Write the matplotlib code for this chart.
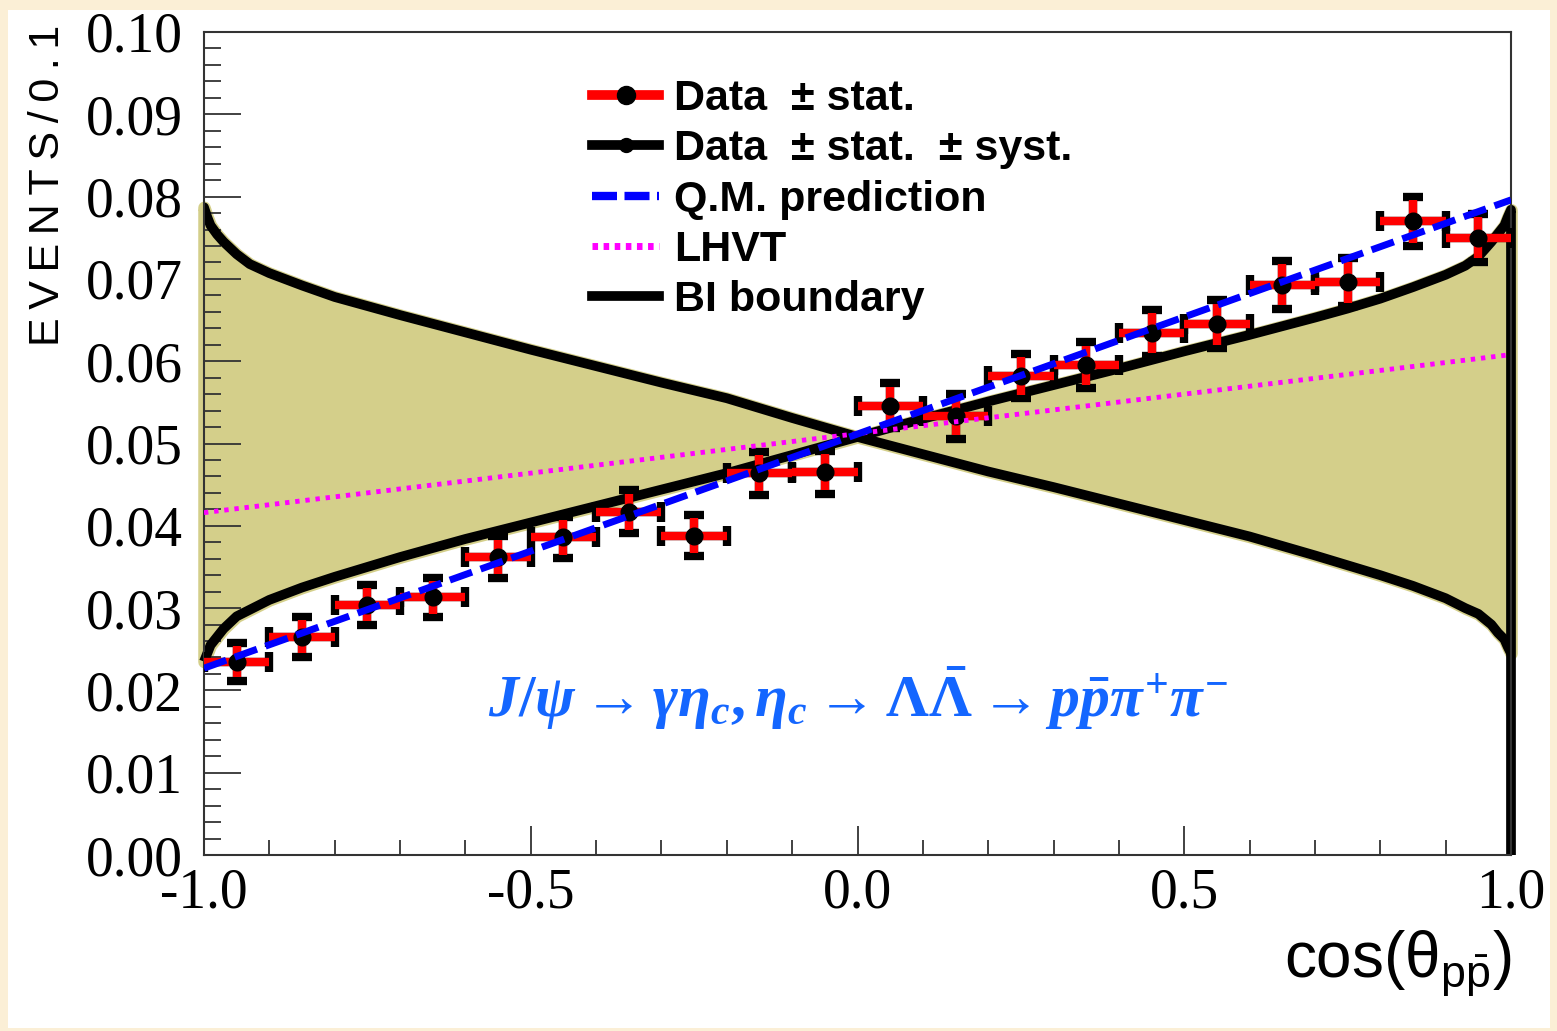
import numpy as np
import matplotlib
matplotlib.use("Agg")
import matplotlib.pyplot as plt
from matplotlib.lines import Line2D
from matplotlib.patches import Rectangle

plt.rcParams["mathtext.fontset"] = "custom"
plt.rcParams["mathtext.rm"] = "Liberation Serif:bold"
plt.rcParams["mathtext.it"] = "Liberation Serif:italic:bold"
plt.rcParams["mathtext.bf"] = "Liberation Serif:bold"
plt.rcParams["mathtext.sf"] = "Liberation Sans"

# ---- measured angular distribution (normalised, 20 bins) ----
cos_bins = [-0.95, -0.85, -0.75, -0.65, -0.55, -0.45, -0.35, -0.25, -0.15, -0.05,
            0.05, 0.15, 0.25, 0.35, 0.45, 0.55, 0.65, 0.75, 0.85, 0.95]
events = [0.0235, 0.0265, 0.0304, 0.0313, 0.0362, 0.0386, 0.0417, 0.0388, 0.0464, 0.0465,
          0.0546, 0.0533, 0.0582, 0.0595, 0.0634, 0.0645, 0.0693, 0.0696, 0.0770, 0.0750]
stat_err = [0.0019, 0.0020, 0.0020, 0.0020, 0.0021, 0.0021, 0.0022, 0.0021, 0.0022, 0.0022,
            0.0023, 0.0023, 0.0023, 0.0024, 0.0024, 0.0025, 0.0025, 0.0025, 0.0026, 0.0025]
total_err = [0.0023, 0.0024, 0.0024, 0.0024, 0.0025, 0.0025, 0.0026, 0.0025, 0.0026, 0.0026,
             0.0027, 0.0027, 0.0027, 0.0028, 0.0028, 0.0029, 0.0029, 0.0029, 0.0030, 0.0029]
bin_half_width = 0.05

# ---- Bell-inequality boundary curves ----
curve_x = [-1.0, -0.995, -0.99, -0.98, -0.97, -0.95, -0.93, -0.9, -0.85, -0.8, -0.75, -0.7,
           -0.6, -0.5, -0.4, -0.3, -0.2, -0.1, 0.0, 0.1, 0.2, 0.3, 0.4, 0.5, 0.6, 0.7, 0.75,
           0.8, 0.85, 0.9, 0.93, 0.95, 0.97, 0.98, 0.99, 0.995, 1.0]
bi_upper = [0.0787, 0.0775, 0.0765, 0.0754, 0.0745, 0.0730, 0.0718, 0.0707, 0.0692, 0.0678,
            0.0667, 0.0656, 0.0635, 0.0614, 0.0594, 0.0574, 0.0555, 0.0531, 0.0508, 0.0487,
            0.0466, 0.0447, 0.0427, 0.0407, 0.0387, 0.0364, 0.0352, 0.0340, 0.0327, 0.0312,
            0.0300, 0.0293, 0.0280, 0.0270, 0.0262, 0.0253, 0.0245]
bi_lower = [0.0235, 0.0245, 0.0255, 0.0265, 0.0275, 0.0290, 0.0298, 0.0310, 0.0325, 0.0338,
            0.0350, 0.0362, 0.0384, 0.0404, 0.0424, 0.0444, 0.0464, 0.0486, 0.0508, 0.0530,
            0.0551, 0.0571, 0.0591, 0.0612, 0.0632, 0.0653, 0.0664, 0.0676, 0.0690, 0.0705,
            0.0716, 0.0727, 0.0745, 0.0755, 0.0765, 0.0775, 0.0784]
bi_lower_end = 0.0

# ---- model predictions ----
qm_x = [-1.0, 1.0]
qm_y = [0.0227, 0.0796]
lhvt_x = [-1.0, 1.0]
lhvt_y = [0.0416, 0.0608]

x_ticks = [-1.0, -0.5, 0.0, 0.5, 1.0]
x_tick_labels = ["-1.0", "-0.5", "0.0", "0.5", "1.0"]
y_ticks = [0.00, 0.01, 0.02, 0.03, 0.04, 0.05, 0.06, 0.07, 0.08, 0.09, 0.10]
y_tick_labels = ["0.00", "0.01", "0.02", "0.03", "0.04", "0.05", "0.06", "0.07", "0.08", "0.09", "0.10"]

W, H = 1557, 1031
fig = plt.figure(figsize=(W / 100, H / 100), dpi=100)
fig.patch.set_facecolor("#fbefd6")
fig.patches.append(Rectangle((8 / W, 3 / H), (1550 - 8) / W, (1021 - 3) / H,
                             transform=fig.transFigure, facecolor="white",
                             edgecolor="none", zorder=-10))

ax = fig.add_axes([204 / W, 1 - 855 / H, (1511 - 204) / W, (855 - 32) / H])
ax.set_xlim(-1.0, 1.0)
ax.set_ylim(0.0, 0.1)
ax.set_facecolor("white")

khaki = "#d4cf8a"
ax.fill_between(curve_x, bi_lower, bi_upper, facecolor=khaki, edgecolor=khaki,
                linewidth=9, zorder=1, clip_on=False)
ax.plot(curve_x, bi_upper, color="black", lw=7, solid_capstyle="round",
        solid_joinstyle="round", zorder=2)
ax.plot(list(curve_x) + [curve_x[-1]], list(bi_lower) + [bi_lower_end],
        color="black", lw=7, solid_joinstyle="round", solid_capstyle="butt",
        zorder=2, clip_on=False)

xerr = [bin_half_width] * len(cos_bins)
ax.errorbar(cos_bins, events, xerr=xerr, yerr=total_err, fmt="none",
            ecolor="black", elinewidth=6, capsize=7, capthick=6, zorder=3)
ax.errorbar(cos_bins, events, xerr=xerr, yerr=stat_err, fmt="none",
            ecolor="red", elinewidth=6, zorder=4)
ax.plot(cos_bins, events, "o", color="black", ms=12, zorder=5)

ax.plot(lhvt_x, lhvt_y, color="#ff00ff", lw=3.5, linestyle=(0, (0.9, 1.2)), zorder=6)
ax.plot(qm_x, qm_y, color="#0000ff", lw=5, linestyle=(0, (3.4, 1.3)), zorder=7)

ax.text(0.0, 0.0190,
        r"$J/\psi \rightarrow \gamma\eta_c, \eta_c \rightarrow \Lambda\bar{\Lambda}"
        r" \rightarrow p\bar{p}\pi^{+}\pi^{-}$",
        color="#1466ff", fontsize=43, ha="center", va="center", zorder=8)

# ---- axes decoration ----
for side in ["left", "right", "top", "bottom"]:
    ax.spines[side].set_linewidth(1.5)
    ax.spines[side].set_color("#333333")

ax.set_xticks(x_ticks)
ax.set_xticklabels(x_tick_labels)
ax.set_xticks(np.arange(-1.0, 1.0001, 0.1), minor=True)
ax.set_yticks(y_ticks)
ax.set_yticklabels(y_tick_labels)
ax.set_yticks(np.arange(0.0, 0.1001, 0.002), minor=True)

ax.tick_params(axis="both", which="both", direction="in", color="#333333", width=1.3,
               top=False, right=False)
ax.tick_params(axis="y", which="major", length=26.5, pad=15)
ax.tick_params(axis="y", which="minor", length=12.5)
ax.tick_params(axis="x", which="major", length=21, pad=9)
ax.tick_params(axis="x", which="minor", length=10.5)
for lab in ax.get_xticklabels() + ax.get_yticklabels():
    lab.set_fontfamily("Liberation Serif")
    lab.set_fontsize(40)

ax.set_ylabel("E\u2009V\u2009E\u2009N\u2009T\u2009S\u2009/\u20090\u2009.\u20091",
              family=["Liberation Sans", "DejaVu Sans"], fontsize=31, loc="top")
ax.yaxis.set_label_coords(-0.104, 1.009)

ax.set_xlabel(r"$\mathsf{cos(\theta_{p\bar{p}})}$", fontsize=46, loc="right")
ax.xaxis.set_label_coords(1.0, -0.090)
ax.xaxis.label.set_va("top")

# ---- legend ----
handles = [
    Line2D([], [], color="red", lw=7, marker="o", mfc="black", mec="black", ms=13),
    Line2D([], [], color="black", lw=7, marker="o", mfc="black", mec="black", ms=10),
    Line2D([], [], color="#0000ff", lw=6, linestyle=(0, (3.0, 0.9))),
    Line2D([], [], color="#ff00ff", lw=5, linestyle=(0, (0.8, 0.8))),
    Line2D([], [], color="black", lw=7),
]
labels = ["Data  \u00b1 stat.", "Data  \u00b1 stat.  \u00b1 syst.", "Q.M. prediction",
          "LHVT", "BI boundary"]
ax.legend(handles, labels, loc="upper left", bbox_to_anchor=(0.297, 0.943),
          frameon=False, borderpad=0.0, handlelength=1.55, handletextpad=0.35,
          labelspacing=0.24, borderaxespad=0.0,
          prop={"family": "Liberation Sans", "weight": "bold", "size": 31})

fig.savefig("out.png", dpi=100, facecolor=fig.get_facecolor())
